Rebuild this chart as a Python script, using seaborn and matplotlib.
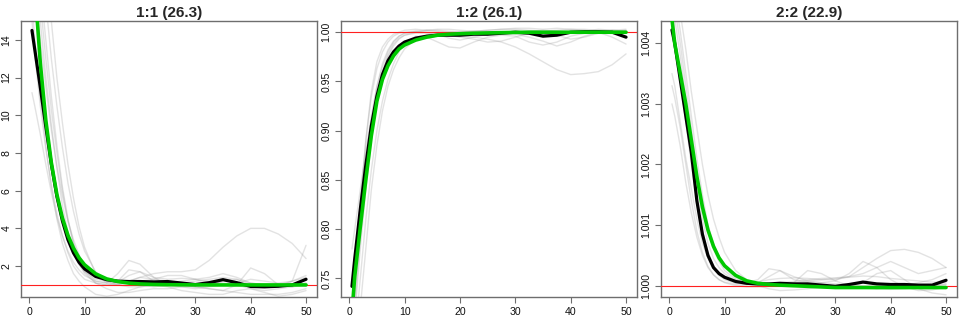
import numpy as np
import pandas as pd
import matplotlib
matplotlib.use("Agg")
import matplotlib.pyplot as plt
import seaborn as sns
from matplotlib.ticker import FormatStrFormatter, FixedLocator

sns.set_style("white")
plt.rcParams['font.family'] = ['Liberation Sans', 'DejaVu Sans']

x = [0.5, 1, 2, 3, 4, 5, 6, 7, 8, 9, 10, 12, 14, 16, 18, 20, 22.5, 25, 27.5, 30,
     32.5, 35, 37.5, 40, 42.5, 45, 47.5, 50]

titles = ["1:1 (26.3)", "1:2 (26.1)", "2:2 (22.9)"]

# ---- panel 1:1 ----
mean_11 = [14.5, 13.5, 11.5, 9.4, 7.4, 5.7, 4.4, 3.4, 2.7, 2.2, 1.85, 1.45, 1.28, 1.2, 1.18, 1.18,
           1.16, 1.18, 1.1, 1.02, 1.12, 1.28, 1.12, 0.92, 0.9, 0.93, 1.0, 1.3]
fit_11 = [19.5, 16.9, 12.8, 9.74, 7.48, 5.8, 4.55, 3.63, 2.95, 2.44, 2.07, 1.59, 1.32, 1.18, 1.097,
          1.053, 1.025, 1.012, 1.006, 1.003, 1.0, 1.0, 1.0, 1.0, 1.0, 1.0, 1.0, 1.0]
runs_11 = [
    [11.2, 10.5, 9.0, 7.4, 5.9, 4.6, 3.6, 2.8, 2.2, 1.8, 1.5, 1.2, 1.1, 1.15, 1.5, 1.7, 1.4, 1.3, 1.35, 1.3, 1.4, 1.6, 1.4, 1.1, 1.0, 1.0, 1.2, 1.4],
    [20, 18, 15, 12, 9.5, 7.2, 5.2, 3.8, 2.8, 2.1, 1.6, 1.1, 1.0, 1.1, 1.2, 1.4, 1.6, 1.7, 1.7, 1.8, 2.3, 3.0, 3.6, 4.0, 4.0, 3.7, 3.2, 2.4],
    [22, 20, 17, 14, 11, 8.4, 6.2, 4.5, 3.2, 2.4, 1.8, 1.2, 1.1, 1.6, 2.3, 2.1, 1.4, 1.0, 0.9, 0.8, 0.9, 1.0, 1.0, 0.9, 0.9, 0.9, 1.2, 3.1],
    [16, 14, 11, 8.4, 6.2, 4.5, 3.2, 2.3, 1.6, 1.2, 0.9, 0.5, 0.4, 0.5, 0.7, 0.9, 1.0, 0.9, 0.7, 0.6, 0.5, 0.5, 0.7, 0.8, 0.6, 0.4, 0.5, 0.7],
    [24, 22, 19, 16, 13, 10.5, 8.3, 6.4, 4.9, 3.7, 2.8, 1.7, 1.2, 1.0, 0.9, 0.9, 1.0, 1.1, 1.0, 0.9, 0.8, 0.7, 1.0, 1.9, 1.6, 1.0, 0.9, 1.1],
    [18, 16, 13, 10, 7.8, 6.0, 4.6, 3.5, 2.7, 2.1, 1.7, 1.3, 1.2, 1.2, 1.8, 1.7, 1.2, 1.1, 1.2, 1.3, 1.2, 1.1, 1.0, 0.8, 0.7, 0.8, 0.9, 1.0],
    [21, 19, 16, 13, 10.3, 8.0, 6.0, 4.4, 3.2, 2.3, 1.7, 1.1, 0.8, 0.6, 0.6, 0.7, 0.8, 0.8, 0.9, 0.9, 0.8, 0.7, 0.6, 0.5, 0.5, 0.5, 0.6, 0.8],
    [26, 24, 21, 18, 15, 12, 9.6, 7.4, 5.6, 4.1, 3.0, 1.6, 1.1, 1.0, 1.1, 1.2, 1.3, 1.5, 1.5, 1.3, 1.1, 1.0, 1.1, 1.3, 1.2, 1.1, 1.2, 1.5],
    [15, 13.3, 10.5, 8.2, 6.3, 4.8, 3.6, 2.7, 2.0, 1.6, 1.3, 1.1, 1.0, 1.0, 1.2, 1.4, 1.3, 1.2, 1.0, 0.9, 1.0, 1.2, 1.3, 1.0, 0.9, 0.9, 1.0, 1.3],
    [19, 17, 14, 11.5, 9.2, 7.3, 5.7, 4.4, 3.4, 2.6, 2.0, 1.4, 1.2, 1.1, 1.1, 1.0, 0.9, 1.0, 1.1, 1.2, 1.3, 1.4, 1.3, 1.1, 1.0, 1.0, 1.0, 1.1],
]

# ---- panel 1:2 ----
mean_12 = [0.742, 0.77, 0.82, 0.865, 0.905, 0.935, 0.957, 0.971, 0.98, 0.986, 0.99, 0.994, 0.996, 0.997,
           0.997, 0.997, 0.998, 0.998, 0.999, 1.0, 0.999, 0.996, 0.997, 1.0, 1.0005, 1.0005, 1.0, 0.995]
fit_12 = [0.715, 0.752, 0.802, 0.85, 0.895, 0.93, 0.952, 0.966, 0.976, 0.983, 0.987, 0.992, 0.995, 0.997,
          0.998, 0.9985, 0.999, 0.9993, 0.9996, 0.9998, 1.0, 1.0, 1.0, 1.0, 1.0, 1.0, 1.0, 1.0]
runs_12 = [
    [0.78, 0.80, 0.84, 0.88, 0.915, 0.945, 0.965, 0.98, 0.99, 0.996, 0.999, 1.001, 1.0, 0.998, 0.994, 0.992, 0.995, 0.998, 0.999, 1.0, 1.001, 1.002, 1.001, 1.0, 0.999, 1.0, 1.001, 1.002],
    [0.70, 0.74, 0.82, 0.89, 0.94, 0.97, 0.985, 0.993, 0.998, 1.0, 1.002, 1.003, 1.002, 1.001, 1.0, 1.0, 1.001, 1.002, 1.003, 1.003, 1.002, 1.001, 1.002, 1.003, 1.002, 1.001, 1.0, 0.999],
    [0.69, 0.72, 0.79, 0.85, 0.90, 0.935, 0.96, 0.977, 0.988, 0.994, 0.997, 0.999, 1.0, 1.0, 0.998, 0.996, 0.995, 0.993, 0.99, 0.985, 0.978, 0.97, 0.962, 0.957, 0.958, 0.96, 0.967, 0.978],
    [0.66, 0.69, 0.75, 0.81, 0.86, 0.90, 0.93, 0.952, 0.968, 0.98, 0.988, 0.996, 0.995, 0.99, 0.985, 0.984, 0.99, 0.995, 0.997, 0.996, 0.99, 0.987, 0.99, 0.996, 0.999, 1.0, 0.995, 0.988],
    [0.72, 0.76, 0.83, 0.89, 0.935, 0.963, 0.98, 0.99, 0.996, 0.999, 1.0, 1.001, 1.002, 1.003, 1.003, 1.002, 1.001, 1.002, 1.003, 1.004, 1.004, 1.003, 1.004, 1.003, 1.003, 1.002, 1.002, 1.001],
    [0.65, 0.67, 0.72, 0.78, 0.84, 0.885, 0.92, 0.945, 0.962, 0.974, 0.983, 0.993, 0.997, 0.999, 0.997, 0.995, 0.993, 0.99, 0.991, 0.995, 0.999, 1.0, 0.997, 0.993, 0.995, 0.999, 1.002, 1.003],
    [0.70, 0.73, 0.80, 0.86, 0.91, 0.945, 0.968, 0.982, 0.991, 0.996, 0.999, 1.0, 0.999, 0.998, 0.999, 1.0, 1.001, 1.001, 1.0, 0.998, 0.995, 0.991, 0.986, 0.99, 0.996, 1.0, 1.001, 1.0],
    [0.68, 0.71, 0.78, 0.84, 0.89, 0.93, 0.957, 0.975, 0.986, 0.993, 0.997, 1.0, 1.002, 1.002, 1.001, 1.0, 0.999, 0.999, 1.0, 1.001, 1.0, 0.998, 0.997, 0.999, 1.001, 1.003, 1.002, 1.001],
]

# ---- panel 2:2 ----
mean_22 = [1.00422, 1.0040, 1.0034, 1.0028, 1.0022, 1.0014, 1.00085, 1.0005, 1.0003, 1.0002, 1.00014,
           1.00007, 1.00004, 1.00003, 1.00003, 1.00004, 1.00003, 1.00003, 1.00001, 0.99999, 1.00002,
           1.00006, 1.00003, 1.00002, 1.00002, 1.00001, 1.00001, 1.00009]
fit_22 = [1.0044, 1.0040, 1.0035, 1.0030, 1.0024, 1.0018, 1.0013, 1.00092, 1.00065, 1.00046, 1.00033,
          1.00017, 1.00008, 1.00004, 1.00002, 1.00001, 1.0, 0.99999, 0.99998, 0.99997, 0.99997,
          0.99997, 0.99997, 0.99997, 0.99997, 0.99997, 0.99997, 0.99997]
runs_22 = [
    [1.0035, 1.0033, 1.0027, 1.0021, 1.0016, 1.0011, 1.0007, 1.00045, 1.00028, 1.00017, 1.0001, 1.00004, 1.00002, 1.00005, 1.00015, 1.00025, 1.00015, 1.00008, 1.00005, 1.00003, 1.00002, 1.0, 0.99999, 0.99998, 0.99998, 0.99999, 1.0, 1.00002],
    [1.0033, 1.0031, 1.0026, 1.0020, 1.0014, 1.0009, 1.00055, 1.00032, 1.00018, 1.0001, 1.00005, 1.0, 0.99998, 0.99999, 1.00003, 1.00005, 1.00007, 1.0001, 1.00012, 1.00013, 1.00015, 1.0002, 1.0003, 1.0004, 1.0003, 1.0002, 1.00025, 1.0003],
    [1.0030, 1.0028, 1.0023, 1.0017, 1.0012, 1.0008, 1.0005, 1.0003, 1.00018, 1.0001, 1.00006, 1.00002, 0.99999, 0.99998, 0.99999, 1.00002, 1.00004, 1.00003, 1.0, 0.99998, 0.99997, 0.99996, 0.99995, 0.99994, 0.99995, 0.99997, 1.0, 1.00003],
    [1.0048, 1.0046, 1.0040, 1.0033, 1.0026, 1.0019, 1.0013, 1.0009, 1.0006, 1.0004, 1.00025, 1.0001, 1.00005, 1.00006, 1.0001, 1.00012, 1.00013, 1.00012, 1.0001, 1.0001, 1.00015, 1.0003, 1.00045, 1.00058, 1.0006, 1.00055, 1.00045, 1.0003],
    [1.0050, 1.0048, 1.0042, 1.0035, 1.0028, 1.0021, 1.0015, 1.001, 1.0007, 1.00045, 1.0003, 1.00012, 1.00005, 1.0001, 1.00028, 1.00025, 1.0001, 1.00006, 1.00005, 1.00008, 1.0002, 1.0004, 1.0003, 1.0001, 0.99998, 0.99992, 0.99993, 0.99998],
    [1.0052, 1.0050, 1.0045, 1.0039, 1.0032, 1.0026, 1.002, 1.0015, 1.0011, 1.0008, 1.00055, 1.00025, 1.0001, 1.00003, 1.0, 0.99999, 1.00005, 1.00025, 1.0002, 1.00008, 1.0, 0.99997, 0.99995, 0.99998, 1.0, 1.00005, 1.0001, 1.0002],
    [1.0046, 1.0044, 1.0038, 1.0031, 1.0024, 1.0017, 1.0011, 1.0007, 1.00045, 1.0003, 1.0002, 1.00008, 1.00003, 1.0, 0.99995, 0.99992, 0.99993, 0.99995, 0.99998, 1.0, 1.00002, 1.00005, 1.0002, 1.00025, 1.0001, 0.99995, 0.99988, 0.99985],
    [1.0042, 1.0040, 1.0034, 1.0027, 1.0020, 1.0014, 1.0009, 1.00055, 1.00033, 1.0002, 1.00012, 1.00005, 1.00002, 1.00001, 1.00002, 1.00003, 1.00005, 1.00008, 1.0001, 1.00012, 1.00014, 1.00016, 1.00015, 1.00012, 1.0001, 1.00008, 1.00006, 1.00005],
]

panels = [
    dict(mean=mean_11, fit=fit_11, runs=runs_11, ylim=(0.36, 15.0),
         yticks=[2, 4, 6, 8, 10, 12, 14], fmt="%d"),
    dict(mean=mean_12, fit=fit_12, runs=runs_12, ylim=(0.7312, 1.0114),
         yticks=[0.75, 0.80, 0.85, 0.90, 0.95, 1.00], fmt="%.2f"),
    dict(mean=mean_22, fit=fit_22, runs=runs_22, ylim=(0.999814, 1.004367),
         yticks=[1.000, 1.001, 1.002, 1.003, 1.004], fmt="%.3f"),
]

W, H = 960, 320
fig = plt.figure(figsize=(W / 100, H / 100), dpi=100)
lefts = [21, 341, 661]
width = 296
top, bottom = 21, 297

for i, p in enumerate(panels):
    ax = fig.add_axes([lefts[i] / W, 1 - bottom / H, width / W, (bottom - top) / H])
    ax.set_facecolor("white")
    for r in p["runs"]:
        sns.lineplot(x=x, y=r, ax=ax, color="#9a9a9a", alpha=0.28, lw=1.0, legend=False)
    ax.axhline(1.0, color="#ff2020", lw=0.8, zorder=3)
    sns.lineplot(x=x, y=p["mean"], ax=ax, color="black", lw=2.3, legend=False, zorder=4)
    sns.lineplot(x=x, y=p["fit"], ax=ax, color="#00c800", lw=2.6, legend=False, zorder=5)
    ax.set_xlim(-1.48, 51.98)
    ax.set_ylim(*p["ylim"])
    ax.set_xticks([0, 10, 20, 30, 40, 50])
    ax.yaxis.set_major_locator(FixedLocator(p["yticks"]))
    ax.yaxis.set_major_formatter(FormatStrFormatter(p["fmt"]))
    ax.set_xlabel("")
    ax.set_ylabel("")
    for s in ax.spines.values():
        s.set_visible(True)
        s.set_color("#6e6e6e")
        s.set_linewidth(1.0)
    ax.tick_params(axis="both", direction="out", length=4.5, width=0.8, color="#6e6e6e",
                   labelsize=7.6, labelcolor="#111111", pad=2.5,
                   bottom=True, left=True, top=False, right=False)
    for lab in ax.get_yticklabels():
        lab.set_rotation(90)
        lab.set_va("center")
    ax.set_title(titles[i], fontsize=11, fontweight="bold", pad=3)

fig.savefig("out.png", dpi=100, facecolor="white")
